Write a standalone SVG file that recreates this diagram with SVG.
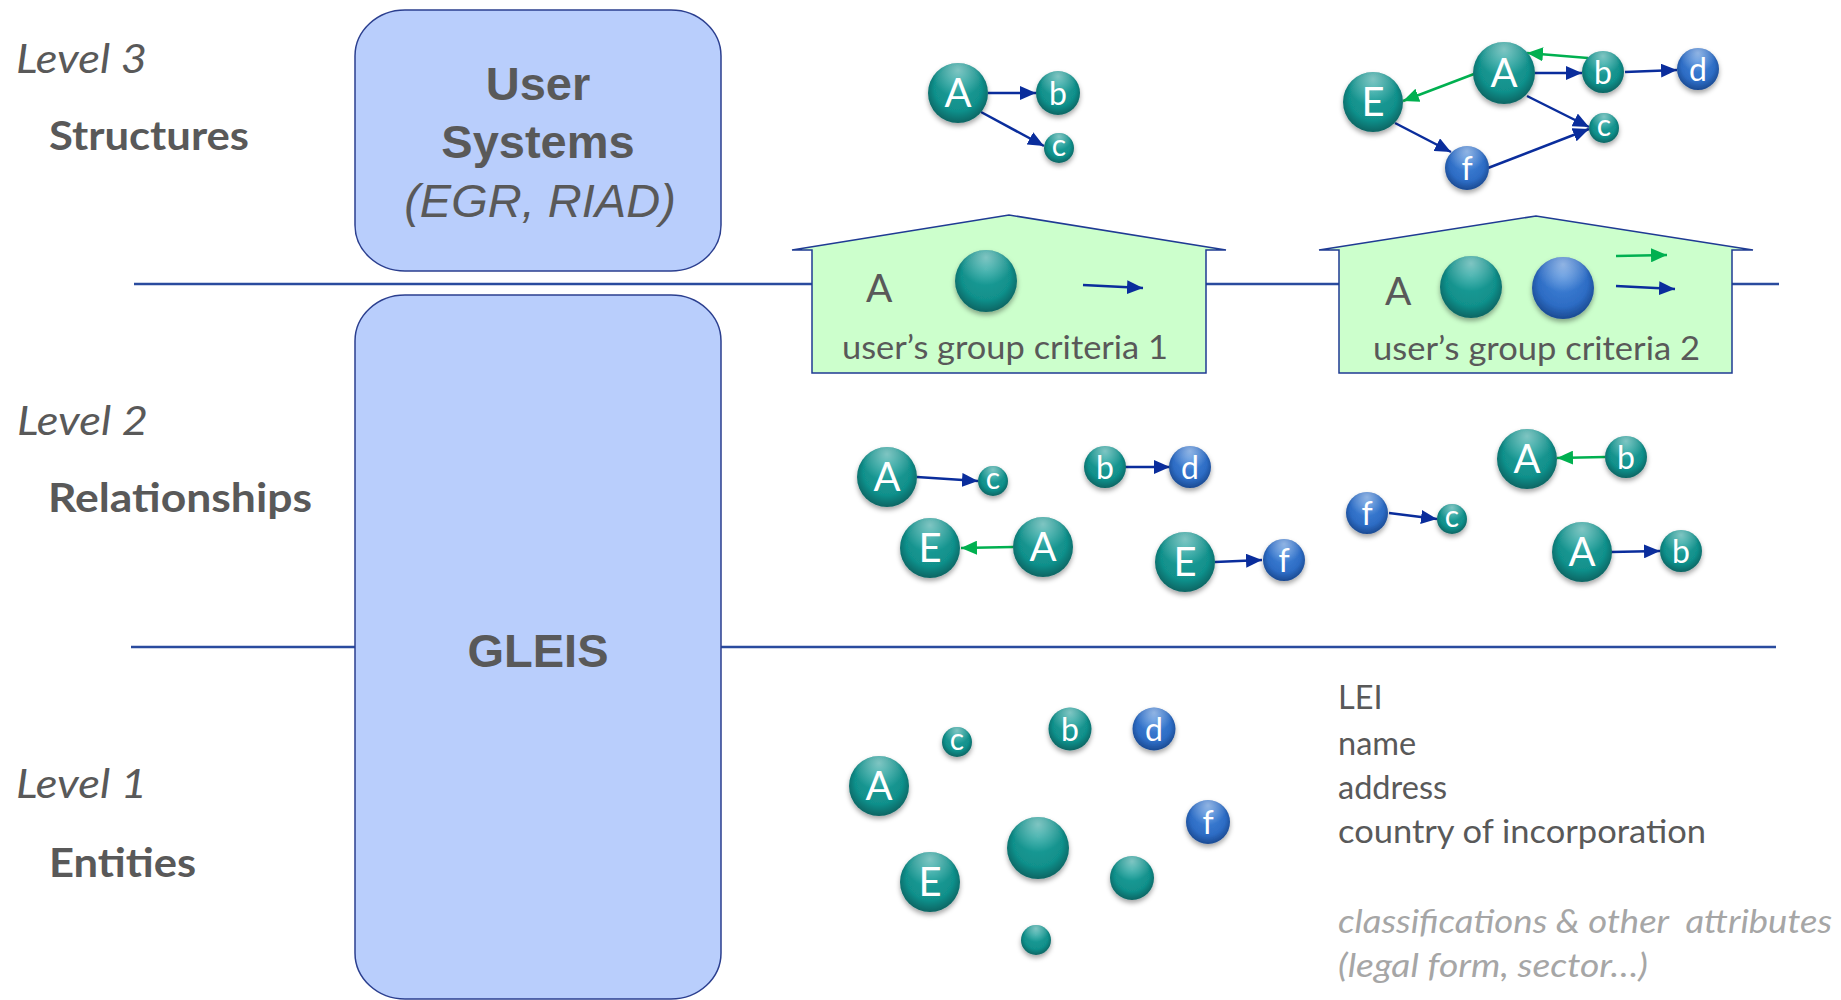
<svg xmlns="http://www.w3.org/2000/svg" width="1841" height="1000" viewBox="0 0 1841 1000">
<style>
.lvl{font-family:Lato,"Open Sans",sans-serif;font-style:italic;font-size:41px;fill:#595959}
.cat{font-family:Lato,"Open Sans",sans-serif;font-weight:bold;font-size:41px;fill:#595959}
.sys{font-family:"Liberation Sans",Arial,sans-serif;font-weight:bold;font-size:47px;fill:#595959;text-anchor:middle}
.sysi{font-family:"Liberation Sans",Arial,sans-serif;font-style:italic;font-size:47px;fill:#595959;text-anchor:middle}
.body{font-family:Lato,"Open Sans",sans-serif;font-size:32.5px;fill:#595959}
.grey{font-family:Lato,"Open Sans",sans-serif;font-style:italic;font-size:32.5px;fill:#a6a6a6}
.box{fill:#b9cefc;stroke:#2b3f8f;stroke-width:1.5}
.house{fill:#ccffcc;stroke:#1f3b93;stroke-width:1.5}
.hline{stroke:#2a4b9e;stroke-width:2.5;fill:none}
.t{fill:url(#gT)}
.b{fill:url(#gB)}
.hi{fill:url(#gH)}
.ball{filter:url(#sh)}
.L{font-family:Lato,"Open Sans",sans-serif;fill:#ffffff;text-anchor:middle;font-size:40px}
.s{font-size:32px}
.xs{font-size:30px}
.eb{stroke:#0a2d9c;stroke-width:2.5;fill:none;marker-end:url(#mb)}
.eg{stroke:#00b050;stroke-width:2.5;fill:none;marker-end:url(#mg)}
</style>
<defs>
<radialGradient id="gT" cx="0.5" cy="0.45" r="0.55" fx="0.5" fy="0.3">
<stop offset="0" stop-color="#1aa09b"/>
<stop offset="0.72" stop-color="#11908b"/>
<stop offset="1" stop-color="#0a6563"/>
</radialGradient>
<radialGradient id="gB" cx="0.5" cy="0.45" r="0.55" fx="0.5" fy="0.3">
<stop offset="0" stop-color="#4386da"/>
<stop offset="0.72" stop-color="#2d6cc4"/>
<stop offset="1" stop-color="#1b4a92"/>
</radialGradient>
<radialGradient id="gH" cx="0.5" cy="0.12" r="0.45">
<stop offset="0" stop-color="#ffffff" stop-opacity="0.45"/>
<stop offset="1" stop-color="#ffffff" stop-opacity="0"/>
</radialGradient>
<filter id="sh" x="-30%" y="-30%" width="160%" height="170%">
<feDropShadow dx="0" dy="3" stdDeviation="2.5" flood-color="#000" flood-opacity="0.35"/>
</filter>
<marker id="mb" markerUnits="userSpaceOnUse" markerWidth="16" markerHeight="14" refX="16" refY="7" orient="auto">
<path d="M0,0 L16,7 L0,14 z" fill="#0a2d9c"/>
</marker>
<marker id="mg" markerUnits="userSpaceOnUse" markerWidth="16" markerHeight="14" refX="16" refY="7" orient="auto">
<path d="M0,0 L16,7 L0,14 z" fill="#00b050"/>
</marker>
</defs>

<g id="separators">
<line class="hline" x1="134" y1="284" x2="1779" y2="284"/>
<line class="hline" x1="131" y1="647" x2="1776" y2="647"/>
</g>

<g id="labels">
<text class="lvl" x="16" y="73" textLength="131" lengthAdjust="spacingAndGlyphs">Level 3</text>
<text class="cat" x="49" y="150" textLength="200" lengthAdjust="spacingAndGlyphs">Structures</text>
<text class="lvl" x="17" y="435" textLength="131" lengthAdjust="spacingAndGlyphs">Level 2</text>
<text class="cat" x="48" y="512" textLength="264" lengthAdjust="spacingAndGlyphs">Relationships</text>
<text class="lvl" x="16" y="798" textLength="131" lengthAdjust="spacingAndGlyphs">Level 1</text>
<text class="cat" x="49" y="877" textLength="147" lengthAdjust="spacingAndGlyphs">Entities</text>
</g>

<g id="user-systems">
<rect class="box" x="355" y="10" width="366" height="261" rx="50" ry="46"/>
<text class="sys" x="538" y="100">User</text>
<text class="sys" x="538" y="158">Systems</text>
<text class="sysi" x="540" y="217">(EGR, RIAD)</text>
</g>

<g id="gleis">
<rect class="box" x="355" y="295" width="366" height="704" rx="50" ry="46"/>
<text class="sys" x="538" y="667">GLEIS</text>
</g>

<g id="house1">
<polygon class="house" points="792,250 1009,215 1226,250 1206,250 1206,373 812,373 812,250"/>
<text class="body" x="866" y="302" style="font-size:39px">A</text>
<circle class="t ball" cx="986" cy="281" r="31"/><circle class="hi" cx="986" cy="281" r="31"/>
<line class="eb" x1="1083" y1="285" x2="1143" y2="288"/>
<text class="body" x="842" y="359" textLength="326" lengthAdjust="spacingAndGlyphs">user’s group criteria 1</text>
</g>

<g id="house2">
<polygon class="house" points="1319,250 1536,216 1753,250 1732,250 1732,373 1339,373 1339,250"/>
<text class="body" x="1385" y="305" style="font-size:39px">A</text>
<circle class="t ball" cx="1471" cy="287" r="31"/><circle class="hi" cx="1471" cy="287" r="31"/>
<circle class="b ball" cx="1563" cy="288" r="31"/><circle class="hi" cx="1563" cy="288" r="31"/>
<line class="eg" x1="1616" y1="256" x2="1667" y2="255"/>
<line class="eb" x1="1616" y1="286" x2="1675" y2="289"/>
<text class="body" x="1373" y="360" textLength="327" lengthAdjust="spacingAndGlyphs">user’s group criteria 2</text>
</g>

<g id="connectors">
<line class="eb" x1="988" y1="93" x2="1036" y2="93"/>
<line class="eb" x1="981" y1="112" x2="1044" y2="146"/>
<line class="eg" x1="1588" y1="58" x2="1527" y2="53"/>
<line class="eg" x1="1474" y1="74" x2="1403" y2="101"/>
<line class="eb" x1="1535" y1="73" x2="1582" y2="73"/>
<line class="eb" x1="1625" y1="72" x2="1677" y2="70"/>
<line class="eb" x1="1527" y1="96" x2="1589" y2="127"/>
<line class="eb" x1="1395" y1="123" x2="1451" y2="152"/>
<line class="eb" x1="1488" y1="168" x2="1589" y2="129"/>
<line class="eb" x1="917" y1="477" x2="978" y2="481"/>
<line class="eb" x1="1125" y1="467" x2="1170" y2="467"/>
<line class="eg" x1="1013" y1="547" x2="961" y2="548"/>
<line class="eb" x1="1215" y1="562" x2="1262" y2="560"/>
<line class="eb" x1="1389" y1="513" x2="1437" y2="519"/>
<line class="eg" x1="1605" y1="457" x2="1557" y2="458"/>
<line class="eb" x1="1611" y1="552" x2="1660" y2="551"/>
</g>

<g id="s1-A"><circle class="t ball" cx="958" cy="93" r="30"/><circle class="hi" cx="958" cy="93" r="30"/><text class="L" x="958" y="107">A</text></g>
<g id="s1-b"><circle class="t ball" cx="1058" cy="93" r="22"/><circle class="hi" cx="1058" cy="93" r="22"/><text class="L s" x="1058" y="104.5">b</text></g>
<g id="s1-c"><circle class="t ball" cx="1059" cy="148" r="15"/><circle class="hi" cx="1059" cy="148" r="15"/><text class="L xs" x="1059" y="155.5">c</text></g>

<g id="s2-E"><circle class="t ball" cx="1373" cy="102" r="30"/><circle class="hi" cx="1373" cy="102" r="30"/><text class="L" x="1373" y="116">E</text></g>
<g id="s2-A"><circle class="t ball" cx="1504" cy="73" r="31"/><circle class="hi" cx="1504" cy="73" r="31"/><text class="L" x="1504" y="87">A</text></g>
<g id="s2-b"><circle class="t ball" cx="1603" cy="72" r="21"/><circle class="hi" cx="1603" cy="72" r="21"/><text class="L s" x="1603" y="83.5">b</text></g>
<g id="s2-d"><circle class="b ball" cx="1698" cy="69" r="21"/><circle class="hi" cx="1698" cy="69" r="21"/><text class="L s" x="1698" y="80.5">d</text></g>
<g id="s2-c"><circle class="t ball" cx="1604" cy="128" r="15"/><circle class="hi" cx="1604" cy="128" r="15"/><text class="L xs" x="1604" y="135.5">c</text></g>
<g id="s2-f"><circle class="b ball" cx="1467" cy="168" r="22"/><circle class="hi" cx="1467" cy="168" r="22"/><text class="L s" x="1467" y="179.5">f</text></g>

<g id="r-A1"><circle class="t ball" cx="887" cy="477" r="30"/><circle class="hi" cx="887" cy="477" r="30"/><text class="L" x="887" y="491">A</text></g>
<g id="r-c1"><circle class="t ball" cx="993" cy="481" r="15"/><circle class="hi" cx="993" cy="481" r="15"/><text class="L xs" x="993" y="488.5">c</text></g>
<g id="r-b2"><circle class="t ball" cx="1105" cy="467" r="21"/><circle class="hi" cx="1105" cy="467" r="21"/><text class="L s" x="1105" y="478.5">b</text></g>
<g id="r-d2"><circle class="b ball" cx="1190" cy="467" r="21"/><circle class="hi" cx="1190" cy="467" r="21"/><text class="L s" x="1190" y="478.5">d</text></g>
<g id="r-E3"><circle class="t ball" cx="930" cy="548" r="30"/><circle class="hi" cx="930" cy="548" r="30"/><text class="L" x="930" y="562">E</text></g>
<g id="r-A3"><circle class="t ball" cx="1043" cy="547" r="30"/><circle class="hi" cx="1043" cy="547" r="30"/><text class="L" x="1043" y="561">A</text></g>
<g id="r-E4"><circle class="t ball" cx="1185" cy="562" r="30"/><circle class="hi" cx="1185" cy="562" r="30"/><text class="L" x="1185" y="576">E</text></g>
<g id="r-f4"><circle class="b ball" cx="1284" cy="560" r="21"/><circle class="hi" cx="1284" cy="560" r="21"/><text class="L s" x="1284" y="571.5">f</text></g>
<g id="r-f5"><circle class="b ball" cx="1367" cy="513" r="21"/><circle class="hi" cx="1367" cy="513" r="21"/><text class="L s" x="1367" y="524.5">f</text></g>
<g id="r-c5"><circle class="t ball" cx="1452" cy="519" r="15"/><circle class="hi" cx="1452" cy="519" r="15"/><text class="L xs" x="1452" y="526.5">c</text></g>
<g id="r-A6"><circle class="t ball" cx="1527" cy="459" r="30"/><circle class="hi" cx="1527" cy="459" r="30"/><text class="L" x="1527" y="473">A</text></g>
<g id="r-b6"><circle class="t ball" cx="1626" cy="457" r="21"/><circle class="hi" cx="1626" cy="457" r="21"/><text class="L s" x="1626" y="468.5">b</text></g>
<g id="r-A7"><circle class="t ball" cx="1582" cy="552" r="30"/><circle class="hi" cx="1582" cy="552" r="30"/><text class="L" x="1582" y="566">A</text></g>
<g id="r-b7"><circle class="t ball" cx="1681" cy="551" r="21"/><circle class="hi" cx="1681" cy="551" r="21"/><text class="L s" x="1681" y="562.5">b</text></g>

<g id="e-c"><circle class="t ball" cx="957" cy="742" r="15"/><circle class="hi" cx="957" cy="742" r="15"/><text class="L xs" x="957" y="749.5">c</text></g>
<g id="e-b"><circle class="t ball" cx="1070" cy="729" r="21.5"/><circle class="hi" cx="1070" cy="729" r="21.5"/><text class="L s" x="1070" y="740.5">b</text></g>
<g id="e-d"><circle class="b ball" cx="1154" cy="729" r="21.5"/><circle class="hi" cx="1154" cy="729" r="21.5"/><text class="L s" x="1154" y="740.5">d</text></g>
<g id="e-A"><circle class="t ball" cx="879" cy="786" r="30"/><circle class="hi" cx="879" cy="786" r="30"/><text class="L" x="879" y="800">A</text></g>
<g id="e-f"><circle class="b ball" cx="1208" cy="822" r="22"/><circle class="hi" cx="1208" cy="822" r="22"/><text class="L s" x="1208" y="833.5">f</text></g>
<g id="e-big"><circle class="t ball" cx="1038" cy="848" r="31"/><circle class="hi" cx="1038" cy="848" r="31"/></g>
<g id="e-E"><circle class="t ball" cx="930" cy="882" r="30"/><circle class="hi" cx="930" cy="882" r="30"/><text class="L" x="930" y="896">E</text></g>
<g id="e-mid"><circle class="t ball" cx="1132" cy="878" r="22"/><circle class="hi" cx="1132" cy="878" r="22"/></g>
<g id="e-small"><circle class="t ball" cx="1036" cy="940" r="15"/><circle class="hi" cx="1036" cy="940" r="15"/></g>

<g id="attributes">
<text class="body" x="1338" y="709">LEI</text>
<text class="body" x="1338" y="755">name</text>
<text class="body" x="1338" y="799">address</text>
<text class="body" x="1338" y="843" textLength="368" lengthAdjust="spacingAndGlyphs">country of incorporation</text>
<text class="grey" x="1338" y="933" textLength="494" lengthAdjust="spacingAndGlyphs" xml:space="preserve">classifications &amp; other  attributes</text>
<text class="grey" x="1338" y="977" textLength="310" lengthAdjust="spacingAndGlyphs">(legal form, sector…)</text>
</g>
</svg>
